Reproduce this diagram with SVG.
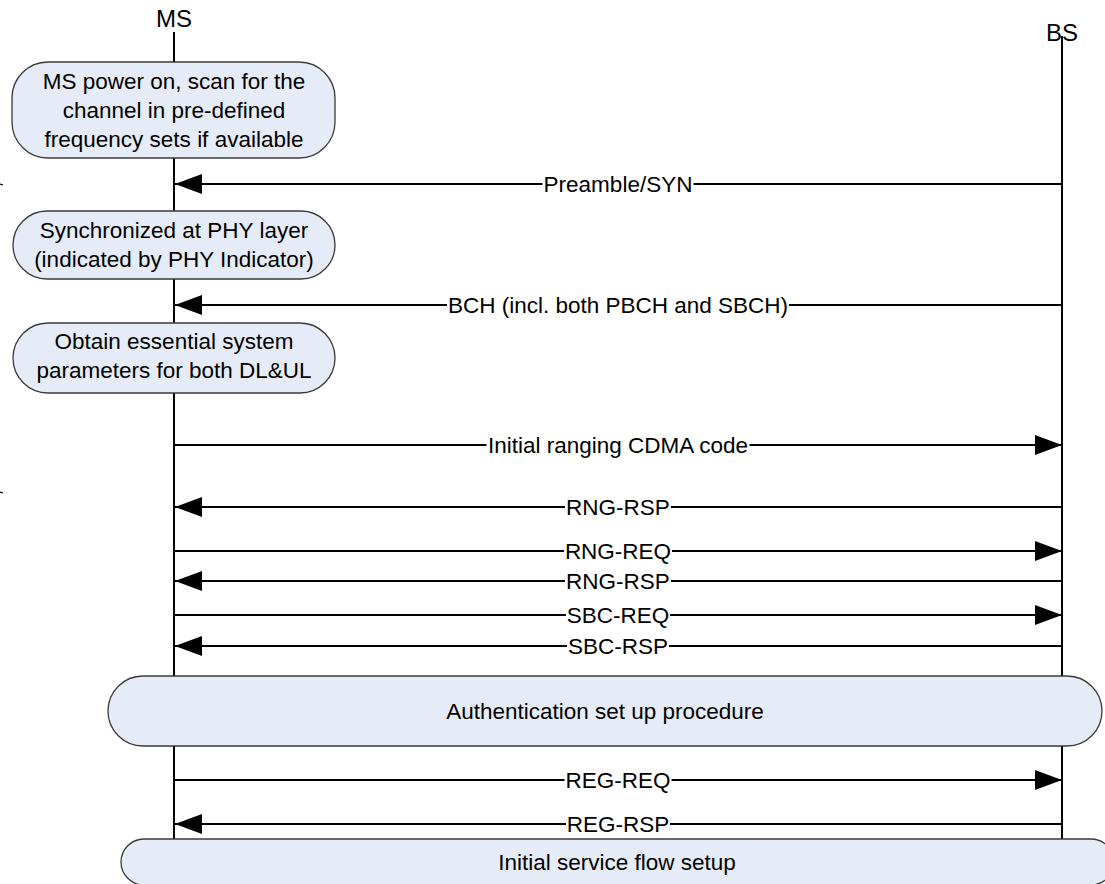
<svg xmlns="http://www.w3.org/2000/svg" width="1105" height="884" viewBox="0 0 1105 884">
  <style>
    text { font-family: "Liberation Sans", Arial, sans-serif; font-size: 22.5px; fill: #000; text-anchor: middle; }
    .hdr { font-size: 24px; }
    .life { stroke: #000; stroke-width: 2; fill: none; }
    .box { fill: #e6ecf7; stroke: #3a3a3a; stroke-width: 1.3; }
    .msg { stroke: #000; stroke-width: 2; fill: none; marker-end: url(#ah); }
    .lbg { fill: #fff; stroke: none; }
  </style>
  <defs>
    <marker id="ah" markerUnits="userSpaceOnUse" markerWidth="27" markerHeight="20" refX="27" refY="10" orient="auto" viewBox="0 0 27 20">
      <path d="M0,0 L27,10 L0,20 z" fill="#000"/>
    </marker>
  </defs>
  <rect x="0" y="0" width="1105" height="884" fill="#fff"/>

  <g id="lifelines">
    <text class="hdr" x="174" y="27">MS</text>
    <line class="life" x1="174" y1="32" x2="174" y2="840"/>
    <text class="hdr" x="1062" y="41">BS</text>
    <line class="life" x1="1062" y1="36" x2="1062" y2="840"/>
    <line x1="0" y1="184" x2="3" y2="185" stroke="#000" stroke-width="1.2"/>
    <line x1="0" y1="492" x2="3" y2="493" stroke="#000" stroke-width="1.2"/>
  </g>

  <g id="connectors">
    <line class="msg" x1="1061" y1="184" x2="175" y2="184"/>
    <line class="msg" x1="1061" y1="305" x2="175" y2="305"/>
    <line class="msg" x1="175" y1="445" x2="1062" y2="445"/>
    <line class="msg" x1="1061" y1="507" x2="175" y2="507"/>
    <line class="msg" x1="175" y1="551" x2="1062" y2="551"/>
    <line class="msg" x1="1061" y1="581" x2="175" y2="581"/>
    <line class="msg" x1="175" y1="615" x2="1062" y2="615"/>
    <line class="msg" x1="1061" y1="646" x2="175" y2="646"/>
    <line class="msg" x1="175" y1="780" x2="1062" y2="780"/>
    <line class="msg" x1="1061" y1="824" x2="175" y2="824"/>
  </g>

  <g id="labels">
    <rect class="lbg" x="542.5" y="174" width="151" height="20"/>
    <text x="618" y="192">Preamble/SYN</text>
    <rect class="lbg" x="447" y="295" width="342" height="20"/>
    <text x="618" y="313">BCH (incl. both PBCH and SBCH)</text>
    <rect class="lbg" x="486.5" y="435" width="263" height="20"/>
    <text x="618" y="453">Initial ranging CDMA code</text>
    <rect class="lbg" x="565" y="497" width="106" height="20"/>
    <text x="618" y="515">RNG-RSP</text>
    <rect class="lbg" x="564" y="541" width="108" height="20"/>
    <text x="618" y="559">RNG-REQ</text>
    <rect class="lbg" x="565" y="571" width="106" height="20"/>
    <text x="618" y="589">RNG-RSP</text>
    <rect class="lbg" x="566" y="605" width="104" height="20"/>
    <text x="618" y="623">SBC-REQ</text>
    <rect class="lbg" x="567" y="636" width="102" height="20"/>
    <text x="618" y="654">SBC-RSP</text>
    <rect class="lbg" x="564.5" y="770" width="107" height="20"/>
    <text x="618" y="788">REG-REQ</text>
    <rect class="lbg" x="566" y="814" width="104" height="20"/>
    <text x="618" y="832">REG-RSP</text>
  </g>

  <g id="node-power-on">
    <rect class="box" x="12" y="62" width="323" height="96" rx="36" ry="36"/>
    <text x="174" y="89">MS power on, scan for the</text>
    <text x="174" y="118">channel in pre-defined</text>
    <text x="174" y="147">frequency sets if available</text>
  </g>

  <g id="node-sync">
    <rect class="box" x="13" y="211" width="322" height="68" rx="34" ry="34"/>
    <text x="174" y="238">Synchronized at PHY layer</text>
    <text x="174" y="267">(indicated by PHY Indicator)</text>
  </g>

  <g id="node-params">
    <rect class="box" x="13" y="323" width="322" height="70" rx="35" ry="35"/>
    <text x="174" y="349">Obtain essential system</text>
    <text x="174" y="378">parameters for both DL&amp;UL</text>
  </g>

  <g id="node-auth">
    <rect class="box" x="108" y="676" width="994" height="70" rx="35" ry="35"/>
    <text x="605" y="719">Authentication set up procedure</text>
  </g>

  <g id="node-service">
    <rect class="box" x="121" y="839" width="993" height="46" rx="23" ry="23"/>
    <text x="617" y="870">Initial service flow setup</text>
  </g>
</svg>
